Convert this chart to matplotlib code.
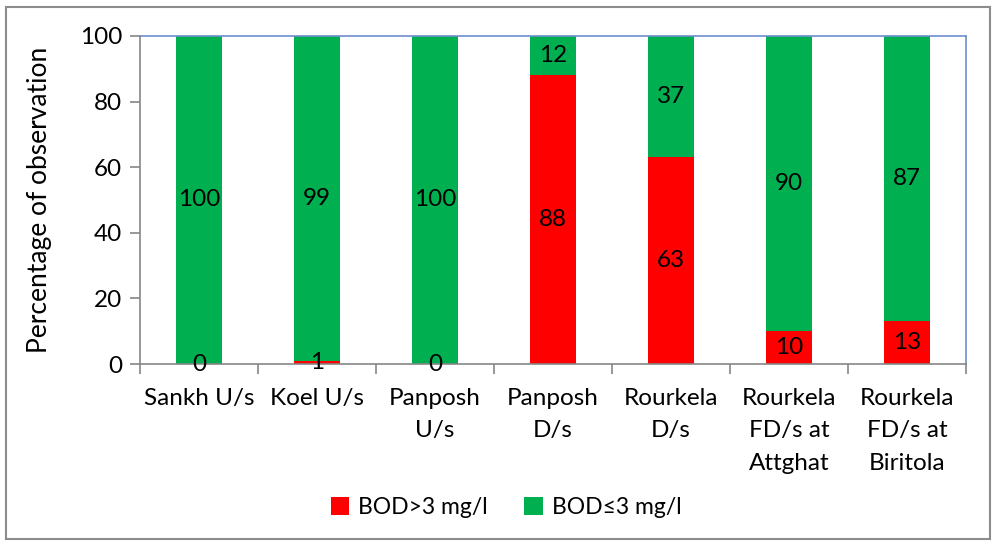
import matplotlib.pyplot as plt
from matplotlib.patches import Rectangle
import numpy as np

plt.rcParams['font.family'] = ['Lato', 'DejaVu Sans']

# Data
stations = ['Sankh U/s', 'Koel U/s', 'Panposh\nU/s', 'Panposh\nD/s', 'Rourkela\nD/s',
            'Rourkela\nFD/s at\nAttghat', 'Rourkela\nFD/s at\nBiritola']
bod_high = [0, 1, 0, 88, 63, 10, 13]
bod_low = [100, 99, 100, 12, 37, 90, 87]

fig = plt.figure(figsize=(9.96, 5.46), dpi=100)
ax = fig.add_axes([0.1406, 0.3333, 0.8293, 0.6008])

x = np.arange(len(stations))
w = 0.39
b1 = ax.bar(x, bod_high, w, color='#FF0000', label='BOD>3 mg/l')
b2 = ax.bar(x, bod_low, w, bottom=bod_high, color='#00B050', label='BOD≤3 mg/l')

# value labels at centre of each segment
for i in range(len(stations)):
    ax.text(x[i], bod_high[i] / 2, str(bod_high[i]), ha='center', va='center', fontsize=17.5)
    ax.text(x[i], bod_high[i] + bod_low[i] / 2, str(bod_low[i]), ha='center', va='center', fontsize=17.5)

ax.set_xlim(-0.5, len(stations) - 0.5)
ax.set_ylim(0, 100)
ax.set_yticks([0, 20, 40, 60, 80, 100])
ax.set_xticks(x)
ax.set_xticklabels(stations, fontsize=17.5, linespacing=1.68)
ax.tick_params(axis='x', length=0, pad=17)
ax.set_xticks(np.arange(-0.5, len(stations)), minor=True)
ax.tick_params(axis='x', which='minor', length=7, color='#868686', width=1.2)
ax.tick_params(axis='y', labelsize=17.5, length=7, color='#868686', width=1.2, pad=6)
ax.set_ylabel('Percentage of observation', fontsize=19, labelpad=20)

for s in ['left', 'bottom']:
    ax.spines[s].set_color('#868686')
    ax.spines[s].set_linewidth(1.2)
for s in ['top', 'right']:
    ax.spines[s].set_color('#6D8FCB')
    ax.spines[s].set_linewidth(1.2)

fig.legend(handles=[b1, b2], loc='center', bbox_to_anchor=(0.508, 0.071), ncol=2,
           frameon=False, fontsize=16.5, handlelength=0.8, handleheight=0.8,
           handletextpad=0.4, columnspacing=1.6)

# outer chart border
fig.patches.append(Rectangle((0.006, 0.012), 0.988, 0.975, transform=fig.transFigure,
                             fill=False, edgecolor='#8C8C8C', linewidth=1.5))

fig.savefig('out.png', dpi=100)
